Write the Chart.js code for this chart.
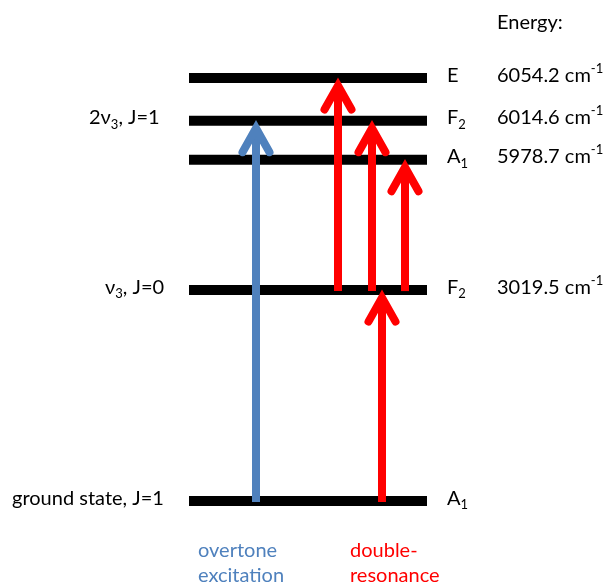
<!DOCTYPE html>
<html><head><meta charset="utf-8">
<script src="https://cdn.jsdelivr.net/npm/chart.js@4"></script>
<style>html,body{margin:0;padding:0;background:#fff;}#wrap{width:604px;height:584px;}</style>
</head><body><div id="wrap"><canvas id="c" width="604" height="584"></canvas></div>
<script>
// ---- data ----
const levelNames = ['ground', 'nu3', 'A1', 'F2', 'E'];
const levelPos = [0, 1, 1.618, 1.803, 2.005];          // schematic diagram height
const levelSym = ['A', 'F', 'A', 'F', 'E'];
const levelSymSub = ['1', '2', '1', '2', ''];
const levelEnergy = ['', '3019.5', '5978.7', '6014.6', '6054.2'];
const levelXRange = [189, 427];
const stateLabelLevel = [0, 1, 3];
const stateLabelX = [12, 105, 89];
const stateLabelParts = [
  [['ground state, J=1', 0]],
  [['\u03bd', 0], ['3', 1], [', J=0', 0]],
  [['2\u03bd', 0], ['3', 1], [', J=1', 0]]
];
const arrowX = [256, 338, 372, 405, 382];
const arrowFrom = [0, 1, 1, 1, 0];
const arrowTo = [3, 4, 3, 2, 1];
const arrowKind = ['overtone', 'dr', 'dr', 'dr', 'dr'];
const captionX = [198, 350];
const captionLines = [['overtone', 'excitation'], ['double-', 'resonance']];
const energyTitle = 'Energy:';
const energyUnit = ' cm';
const energyUnitSup = '-1';

const BLUE = '#4f81bd', RED = '#ff0000';
const FONT = 'Lato, "Open Sans", sans-serif';

const datasets = levelPos.map((p, i) => ({
  label: levelNames[i],
  data: [{x: levelXRange[0], y: p}, {x: levelXRange[1], y: p}],
  borderColor: '#000', borderWidth: 10, borderCapStyle: 'butt',
  pointRadius: 0, fill: false, order: 2
}));

function drawRich(ctx, parts, x, y, align, color) {
  let total = 0;
  const fonts = parts.map(p => p[1] ? '13px ' + FONT : '20px ' + FONT);
  parts.forEach((p, i) => { ctx.font = fonts[i]; total += ctx.measureText(p[0]).width; });
  let cx = align === 'right' ? x - total : x;
  ctx.fillStyle = color; ctx.textBaseline = 'alphabetic'; ctx.textAlign = 'left';
  parts.forEach((p, i) => {
    ctx.font = fonts[i];
    const dy = p[1] === 1 ? 4.5 : (p[1] === 2 ? -9 : 0);
    ctx.fillText(p[0], cx, y + dy);
    cx += ctx.measureText(p[0]).width;
  });
}

const diagramPlugin = {
  id: 'diagram',
  afterDatasetsDraw(chart) {
    const ctx = chart.ctx, xs = chart.scales.x, ys = chart.scales.y;
    ctx.save();
    arrowX.forEach((ax, i) => {
      const col = arrowKind[i] === 'overtone' ? BLUE : RED;
      const px = xs.getPixelForValue(ax);
      const y0 = ys.getPixelForValue(levelPos[arrowFrom[i]]);
      const yt = ys.getPixelForValue(levelPos[arrowTo[i]]);
      const apex = yt + 7.5;
      ctx.strokeStyle = col;
      ctx.lineWidth = 8; ctx.lineCap = 'butt';
      ctx.beginPath(); ctx.moveTo(px, y0 + 1); ctx.lineTo(px, apex); ctx.stroke();
      ctx.lineWidth = 8; ctx.lineCap = 'round'; ctx.lineJoin = 'miter';
      ctx.beginPath();
      ctx.moveTo(px - 13.5, apex + 24); ctx.lineTo(px, apex); ctx.lineTo(px + 13.5, apex + 24);
      ctx.stroke();
    });
    ctx.restore();
  },
  afterDraw(chart) {
    const ctx = chart.ctx, ys = chart.scales.y;
    ctx.save();
    drawRich(ctx, [[energyTitle, 0]], 497, 29, 'left', '#000');
    levelPos.forEach((p, i) => {
      const py = ys.getPixelForValue(p) + 3.5;
      const sym = [[levelSym[i], 0]];
      if (levelSymSub[i]) sym.push([levelSymSub[i], 1]);
      drawRich(ctx, sym, 447, py, 'left', '#000');
      if (levelEnergy[i]) drawRich(ctx, [[levelEnergy[i] + energyUnit, 0], [energyUnitSup, 2]], 497, py, 'left', '#000');
    });
    stateLabelLevel.forEach((li, k) => {
      const py = ys.getPixelForValue(levelPos[li]) + 3.5;
      drawRich(ctx, stateLabelParts[k], stateLabelX[k], py, 'left', '#000');
    });
    captionLines.forEach((lines, k) => {
      const col = k === 0 ? BLUE : RED;
      lines.forEach((t, j) => drawRich(ctx, [[t, 0]], captionX[k], 557 + j * 25, 'left', col));
    });
    ctx.restore();
  }
};

new Chart(document.getElementById('c'), {
  type: 'line',
  data: { datasets },
  options: {
    responsive: false, animation: false,
    layout: { padding: 0 },
    plugins: { legend: { display: false }, tooltip: { enabled: false } },
    scales: {
      x: { type: 'linear', min: 0, max: 604, display: false },
      y: { type: 'linear', min: -0.393, max: 2.375, display: false }
    }
  },
  plugins: [diagramPlugin]
});
</script></body></html>
